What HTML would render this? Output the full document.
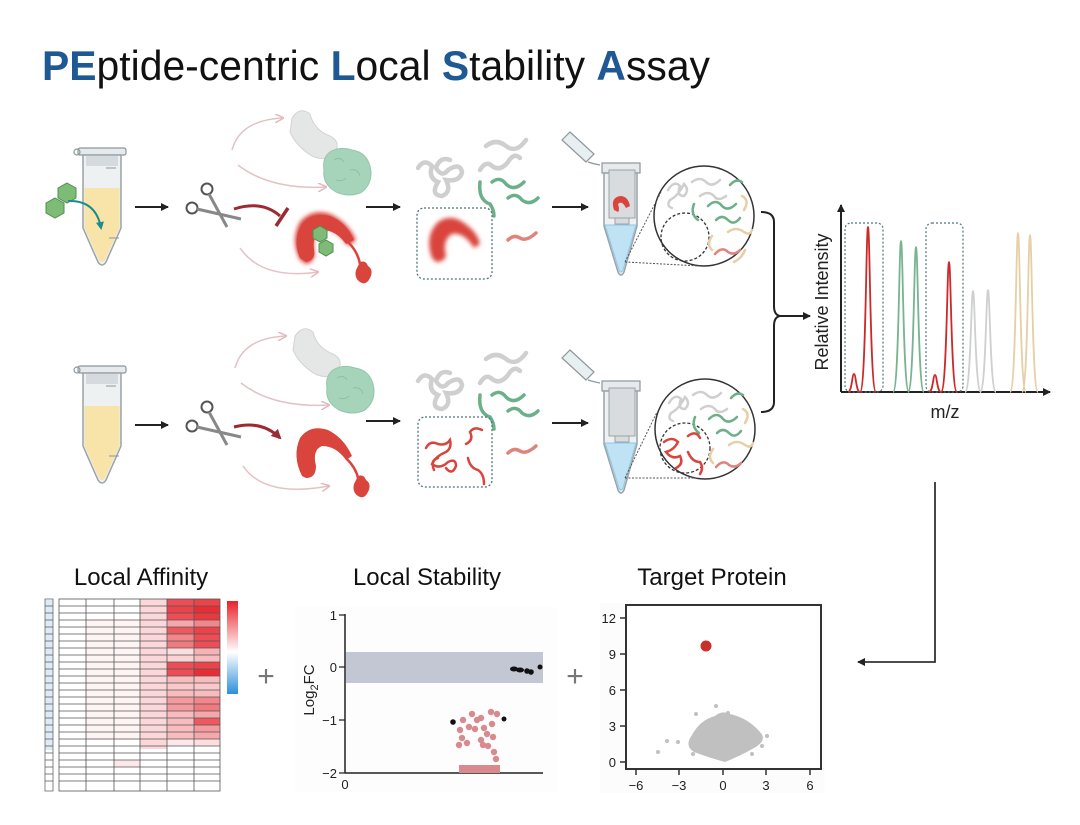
<!DOCTYPE html>
<html><head><meta charset="utf-8"><style>
html,body{margin:0;padding:0;background:#fff;}
svg{display:block;font-family:"Liberation Sans",sans-serif;}
</style></head><body>
<svg width="1080" height="825" viewBox="0 0 1080 825" xmlns="http://www.w3.org/2000/svg">
<defs>
<marker id="ah" markerWidth="8" markerHeight="8" refX="7" refY="4" orient="auto" markerUnits="userSpaceOnUse"><path d="M0,0 L8,4 L0,8 Z" fill="#222"/></marker>
<marker id="ahp" markerWidth="9" markerHeight="9" refX="8" refY="4.5" orient="auto" markerUnits="userSpaceOnUse"><path d="M0,0 L9,4.5 L0,9" fill="none" stroke="#e3b9bd" stroke-width="1.5"/></marker>
<marker id="ahd" markerWidth="10" markerHeight="10" refX="8" refY="5" orient="auto" markerUnits="userSpaceOnUse"><path d="M0,0 L10,5 L0,10 Z" fill="#9b2b33"/></marker>
<marker id="aht" markerWidth="8" markerHeight="8" refX="6" refY="4" orient="auto" markerUnits="userSpaceOnUse"><path d="M0,0 L8,4 L0,8 Z" fill="#1a8c8c"/></marker>
<filter id="blur" x="-20%" y="-20%" width="140%" height="140%"><feGaussianBlur stdDeviation="2.2"/></filter>
<g id="tube">
  <rect x="2" y="0" width="48" height="7" rx="2" fill="#e6eaec" stroke="#8d969b" stroke-width="1.2"/>
  <circle cx="1" cy="4" r="3" fill="none" stroke="#8d969b" stroke-width="1.2"/>
  <path d="M7,7 L45,7 L45,80 L30,114 Q26,120 22,114 L7,80 Z" fill="#edf1f2" stroke="#9aa3a8" stroke-width="1.5"/>
  <rect x="10" y="8" width="32" height="10" fill="#d4dadd"/>
  <path d="M8.5,40 L43.5,40 L43.5,80 L29,112 Q26,116 23,112 L8.5,80 Z" fill="#f8e3a8"/>
  <path d="M30,20 L40,20 M33,90 L43,90" stroke="#8d969b" stroke-width="1"/>
</g>
<g id="otube">
  <path d="M0,0 L8,-8 L32,14 L24,22 Z" transform="translate(12,20)" fill="#e7eff0" stroke="#8d969b" stroke-width="1.2"/>
  <path d="M38,42 Q44,44 50,45" fill="none" stroke="#8d969b" stroke-width="1.2"/>
  <rect x="52" y="43" width="38" height="10" fill="#e6eaec" stroke="#8d969b" stroke-width="1.2"/>
  <path d="M54,53 L87,53 L87,106 L74,152 Q71,158 68,152 L54,106 Z" fill="#edf1f2" stroke="#9aa3a8" stroke-width="1.5"/>
  <path d="M55,105 L86,105 L73,150 Q71,154 69,150 Z" fill="#bfe2f4" stroke="#8fc6e2" stroke-width="1"/>
  <rect x="59" y="50" width="26" height="48" fill="#d8dcde" stroke="#9aa3a8" stroke-width="1"/>
  <rect x="65" y="98" width="14" height="6" fill="#d8dcde" stroke="#9aa3a8" stroke-width="1"/>
</g>
<g id="scis" fill="none" stroke="#555" stroke-width="2">
  <circle cx="0" cy="0" r="5.5" fill="#fff"/>
  <circle cx="-15" cy="19" r="5.5" fill="#fff"/>
  <path d="M2,5 L20,38" stroke="#888" stroke-width="3"/>
  <path d="M-10,20 L34,30" stroke="#888" stroke-width="3"/>
</g>
<g id="blobs">
  <path d="M292,118 Q300,106 310,114 Q314,130 330,136 Q342,142 334,154 Q326,162 312,156 Q296,146 290,132 Z" fill="#e5e6e6" stroke="#d3d4d4" stroke-width="1"/>
  <path d="M330,152 Q340,146 352,150 Q366,152 370,166 Q374,182 362,192 Q350,198 336,192 Q322,184 324,170 Q322,158 330,152 Z" fill="#a6d4bb" stroke="#93c6ab" stroke-width="1"/>
  <path d="M334,160 q6,-4 10,2 M350,170 q8,-2 10,6 M336,180 q6,2 10,-2" stroke="#8cc0a4" fill="none"/>
</g>
<g id="gcoil" fill="none" stroke="#cfcfcf" stroke-width="4.5" stroke-linecap="round">
  <path d="M418,168 Q424,158 432,166 Q428,178 438,182 Q430,195 442,196 Q452,192 446,180 Q460,182 462,172 Q460,162 448,170 Q442,178 436,168 Q440,156 450,160"/>
  <path d="M480,170 Q486,160 492,166 Q500,172 508,162 Q514,152 520,158"/>
  <path d="M486,146 Q496,138 506,146 Q516,154 526,140"/>
</g>
<g id="gsq" fill="none" stroke="#6cb08a" stroke-width="3.5" stroke-linecap="round">
  <path d="M480,182 Q478,200 490,204 Q494,210 494,216"/>
  <path d="M492,182 Q500,176 506,184 Q514,192 524,182"/>
  <path d="M508,198 Q516,192 522,200 Q530,206 538,198"/>
</g>
</defs>

<!-- Title -->
<text x="42" y="80" font-size="42" textLength="668" lengthAdjust="spacingAndGlyphs" fill="#111"><tspan fill="#1f5994" font-weight="bold">PE</tspan>ptide-centric <tspan fill="#1f5994" font-weight="bold">L</tspan>ocal <tspan fill="#1f5994" font-weight="bold">S</tspan>tability <tspan fill="#1f5994" font-weight="bold">A</tspan>ssay</text>

<!-- TOP ROW -->
<use href="#tube" x="76" y="148"/>
<g fill="#7dbb77" stroke="#4f9150" stroke-width="1">
  <polygon points="55,198 64,203 64,213 55,218 46,213 46,203"/>
  <polygon points="67,183 76,188 76,198 67,203 58,198 58,188"/>
</g>
<path d="M68,201 Q96,200 101,228" fill="none" stroke="#1a8c8c" stroke-width="2" marker-end="url(#aht)"/>
<line x1="135" y1="207" x2="168" y2="207" stroke="#222" stroke-width="2" marker-end="url(#ah)"/>
<use href="#scis" x="207" y="189"/>
<path d="M232,150 Q240,120 283,118" fill="none" stroke="#e3c2c5" stroke-width="1.5" marker-end="url(#ahp)"/>
<path d="M238,165 Q270,190 326,187" fill="none" stroke="#e3c2c5" stroke-width="1.5" marker-end="url(#ahp)"/>
<path d="M240,248 Q262,280 318,272" fill="none" stroke="#e3c2c5" stroke-width="1.5" marker-end="url(#ahp)"/>
<path d="M234,209 Q262,200 280,216" fill="none" stroke="#9b2b33" stroke-width="3"/>
<line x1="288" y1="208" x2="276" y2="226" stroke="#9b2b33" stroke-width="3.5"/>
<use href="#blobs"/>
<g filter="url(#blur)"><path d="M300,260 Q290,240 300,222 Q312,208 330,214 Q348,222 356,240 L348,246 Q336,228 322,228 Q312,232 314,250 Q316,262 306,264 Z" fill="#d9453d"/></g>
<path d="M300,258 Q292,240 302,224 Q312,212 330,216 Q346,222 354,240 L346,244 Q336,230 322,230 Q312,234 314,250 Q316,260 306,262 Z" fill="#d9453d"/>
<path d="M348,242 Q358,252 360,264" stroke="#d9453d" stroke-width="2.5" fill="none"/>
<path d="M360,262 q6,-2 8,4 q6,4 2,12 q-4,8 -10,4 q-6,-4 -4,-12 Z" fill="#d9453d"/>
<g fill="#7dbb77" stroke="#4f9150" stroke-width="1">
  <polygon points="320,226 327,230 327,238 320,242 313,238 313,230"/>
  <polygon points="326,240 333,244 333,252 326,256 319,252 319,244"/>
</g>
<line x1="366" y1="207" x2="400" y2="207" stroke="#222" stroke-width="2" marker-end="url(#ah)"/>
<use href="#gcoil"/>
<use href="#gsq"/>
<path d="M508,240 Q514,234 520,238 Q526,242 536,233" fill="none" stroke="#e0837a" stroke-width="3.5" stroke-linecap="round"/>
<rect x="417" y="208" width="75" height="71" rx="7" fill="none" stroke="#4f7478" stroke-width="1.3" stroke-dasharray="2,2"/>
<g filter="url(#blur)"><path d="M432,258 Q424,236 438,222 Q452,212 468,226 Q478,234 480,244 L474,248 Q464,232 452,234 Q442,240 446,256 Q444,262 436,262 Z" fill="#d9453d"/></g>
<line x1="552" y1="207" x2="588" y2="207" stroke="#222" stroke-width="2" marker-end="url(#ah)"/>
<use href="#otube" x="550" y="120"/>
<path d="M614,210 Q610,198 620,196 Q628,196 630,206 L626,208 Q622,200 618,204 Q620,210 618,212 Z" fill="#d9453d"/>
<circle cx="704" cy="216" r="50" fill="#fff" stroke="#333" stroke-width="1.5"/>
<line x1="625" y1="262" x2="661" y2="192" stroke="#555" stroke-width="1" stroke-dasharray="2,1.5"/>
<line x1="625" y1="262" x2="700" y2="266" stroke="#555" stroke-width="1" stroke-dasharray="2,1.5"/>
<circle cx="685" cy="237" r="24" fill="none" stroke="#333" stroke-width="1.3" stroke-dasharray="3,2"/>
<g fill="none" stroke-width="2.5" stroke-linecap="round">
  <path d="M668,190 Q674,180 680,186 Q676,196 684,196 Q690,190 684,184 Q678,196 670,200 Q666,206 672,208" stroke="#cfcfcf"/>
  <path d="M692,182 Q700,176 706,182 Q712,188 720,180" stroke="#cfcfcf"/>
  <path d="M700,196 Q708,190 714,196 Q718,202 726,196" stroke="#cfcfcf"/>
  <path d="M694,204 Q690,214 698,220" stroke="#6cb08a"/>
  <path d="M708,206 Q716,198 722,206 Q728,212 736,204" stroke="#6cb08a"/>
  <path d="M716,220 Q722,214 728,220 Q734,226 740,218" stroke="#6cb08a"/>
  <path d="M730,185 Q736,178 742,182" stroke="#6cb08a"/>
  <path d="M742,196 Q750,200 744,210" stroke="#e6cfa6"/>
  <path d="M728,232 Q736,226 744,232 Q750,236 752,230" stroke="#e6cfa6"/>
  <path d="M712,236 Q706,244 712,250" stroke="#e6cfa6"/>
  <path d="M715,254 Q722,246 728,252 Q734,256 740,250" stroke="#e0837a"/>
  <path d="M734,262 Q742,258 745,250" stroke="#e6cfa6"/>
</g>

<!-- BOTTOM ROW -->
<use href="#tube" x="76" y="366"/>
<line x1="135" y1="425" x2="168" y2="425" stroke="#222" stroke-width="2" marker-end="url(#ah)"/>
<use href="#scis" x="207" y="407"/>
<g transform="translate(3,218)">
<path d="M232,150 Q240,120 283,118" fill="none" stroke="#e3c2c5" stroke-width="1.5" marker-end="url(#ahp)"/>
<path d="M238,165 Q270,190 326,187" fill="none" stroke="#e3c2c5" stroke-width="1.5" marker-end="url(#ahp)"/>
<path d="M240,248 Q262,280 326,268" fill="none" stroke="#e3c2c5" stroke-width="1.5" marker-end="url(#ahp)"/>
<use href="#blobs"/>
</g>
<path d="M234,427 Q262,420 280,438" fill="none" stroke="#9b2b33" stroke-width="3" marker-end="url(#ahd)"/>
<path d="M302,476 Q292,456 300,438 Q310,424 328,430 Q344,438 352,456 L346,460 Q336,446 322,446 Q312,450 316,466 Q316,478 306,478 Z" fill="#d9453d"/>
<path d="M346,458 Q356,468 358,478" stroke="#d9453d" stroke-width="2.5" fill="none"/>
<path d="M358,476 q6,-2 8,4 q6,4 2,12 q-4,8 -10,4 q-6,-4 -4,-12 Z" fill="#d9453d"/>
<line x1="366" y1="421" x2="400" y2="421" stroke="#222" stroke-width="2" marker-end="url(#ah)"/>
<g transform="translate(0,213)"><use href="#gcoil"/><use href="#gsq"/>
<path d="M508,240 Q514,234 520,238 Q526,242 536,233" fill="none" stroke="#e0837a" stroke-width="3.5" stroke-linecap="round"/></g>
<rect x="418" y="417" width="74" height="70" rx="7" fill="none" stroke="#4f7478" stroke-width="1.3" stroke-dasharray="2,2"/>
<g fill="none" stroke="#d9453d" stroke-width="2.5" stroke-linecap="round">
  <path d="M426,448 Q430,440 438,444 Q446,446 450,440 Q452,448 446,452 Q436,456 432,464 Q440,470 448,462 Q456,458 456,466 Q452,476 446,468"/>
  <path d="M434,470 Q430,460 438,458"/>
  <path d="M466,444 Q474,440 470,432 Q474,426 482,430"/>
  <path d="M468,458 Q470,468 478,470 Q484,474 484,484"/>
</g>
<line x1="552" y1="423" x2="588" y2="423" stroke="#222" stroke-width="2" marker-end="url(#ah)"/>
<use href="#otube" x="550" y="338"/>
<circle cx="705" cy="429" r="50" fill="#fff" stroke="#333" stroke-width="1.5"/>
<line x1="625" y1="478" x2="657" y2="412" stroke="#555" stroke-width="1" stroke-dasharray="2,1.5"/>
<line x1="625" y1="478" x2="697" y2="478" stroke="#555" stroke-width="1" stroke-dasharray="2,1.5"/>
<circle cx="685" cy="448" r="25" fill="none" stroke="#333" stroke-width="1.3" stroke-dasharray="3,2"/>
<g fill="none" stroke-width="2.5" stroke-linecap="round" transform="translate(1,213)">
  <path d="M668,190 Q674,180 680,186 Q676,196 684,196 Q690,190 684,184 Q678,196 670,200 Q666,206 672,208" stroke="#cfcfcf"/>
  <path d="M692,182 Q700,176 706,182 Q712,188 720,180" stroke="#cfcfcf"/>
  <path d="M700,196 Q708,190 714,196 Q718,202 726,196" stroke="#cfcfcf"/>
  <path d="M694,204 Q690,214 698,220" stroke="#6cb08a"/>
  <path d="M708,206 Q716,198 722,206 Q728,212 736,204" stroke="#6cb08a"/>
  <path d="M716,220 Q722,214 728,220 Q734,226 740,218" stroke="#6cb08a"/>
  <path d="M730,185 Q736,178 742,182" stroke="#6cb08a"/>
  <path d="M742,196 Q750,200 744,210" stroke="#e6cfa6"/>
  <path d="M728,232 Q736,226 744,232 Q750,236 752,230" stroke="#e6cfa6"/>
  <path d="M712,236 Q706,244 712,250" stroke="#e6cfa6"/>
  <path d="M715,254 Q722,246 728,252 Q734,256 740,250" stroke="#e0837a"/>
</g>
<g fill="none" stroke="#d9453d" stroke-width="2.5" stroke-linecap="round">
  <path d="M664,442 Q672,436 678,442 Q674,450 666,452 Q672,460 680,456 Q684,464 676,468"/>
  <path d="M688,436 Q696,430 700,438"/>
  <path d="M688,452 Q692,462 700,462 Q704,468 700,474"/>
</g>

<!-- Brace & arrow -->
<path d="M761,212 Q774,212 774,222 L774,306 Q774,315 780,316 Q774,317 774,326 L774,402 Q774,412 761,412" fill="none" stroke="#222" stroke-width="2"/>
<line x1="780" y1="316" x2="810" y2="316" stroke="#222" stroke-width="2" marker-end="url(#ah)"/>

<!-- Spectrum -->
<line x1="841" y1="392" x2="841" y2="205" stroke="#222" stroke-width="2" marker-end="url(#ah)"/>
<line x1="841" y1="392" x2="1050" y2="392" stroke="#222" stroke-width="2" marker-end="url(#ah)"/>
<text transform="translate(828,302) rotate(-90)" font-size="18" text-anchor="middle" fill="#222">Relative Intensity</text>
<text x="945" y="418" font-size="18" text-anchor="middle" fill="#222">m/z</text>
<rect x="845" y="223" width="38" height="169" rx="6" fill="none" stroke="#4f7478" stroke-width="1.2" stroke-dasharray="2,2"/>
<rect x="926" y="223" width="37" height="169" rx="6" fill="none" stroke="#4f7478" stroke-width="1.2" stroke-dasharray="2,2"/>
<g fill="none" stroke-width="1.8">
  <path d="M848,392 C852,392 852,374 854,374 C856,374 856,392 860,392" stroke="#cc2a2a"/>
  <path d="M860,392 C866,392 866,227 868,227 C870,227 870,392 876,392" stroke="#cc2a2a"/>
  <path d="M893,392 C899,392 899,241 901,241 C903,241 903,392 909,392" stroke="#78b48f"/>
  <path d="M908,392 C914,392 914,247 916,247 C918,247 918,392 924,392" stroke="#78b48f"/>
  <path d="M929,392 C933,392 933,375 935,375 C937,375 937,392 941,392" stroke="#cc2a2a"/>
  <path d="M941,392 C947,392 947,262 949,262 C951,262 951,392 957,392" stroke="#cc2a2a"/>
  <path d="M965,392 C971,392 971,291 973,291 C975,291 975,392 981,392" stroke="#cfcfcf"/>
  <path d="M980,392 C986,392 986,290 988,290 C990,290 990,392 996,392" stroke="#cfcfcf"/>
  <path d="M1010,392 C1016,392 1016,233 1018,233 C1020,233 1020,392 1026,392" stroke="#e6cfa6"/>
  <path d="M1022,392 C1028,392 1028,235 1030,235 C1032,235 1032,392 1038,392" stroke="#e6cfa6"/>
</g>

<!-- Connector -->
<path d="M935,482 L935,662 L858,662" fill="none" stroke="#333" stroke-width="1.8" marker-end="url(#ah)"/>

<!-- Titles bottom -->
<text x="141" y="585" font-size="24" text-anchor="middle" fill="#111">Local Affinity</text>
<text x="427" y="585" font-size="24" text-anchor="middle" fill="#111">Local Stability</text>
<text x="712" y="585" font-size="24" text-anchor="middle" fill="#111">Target Protein</text>
<text x="266" y="686" font-size="30" text-anchor="middle" fill="#777">+</text>
<text x="575" y="686" font-size="30" text-anchor="middle" fill="#777">+</text>

<!-- Heatmap -->
<rect x="45" y="599" width="8" height="192" fill="#fff" stroke="#666" stroke-width="0.8"/>
<rect x="45.5" y="600" width="7" height="150" fill="#deebf6"/>
<rect x="59" y="599" width="161" height="192" fill="#fff"/>
<g fill="#e8222a">
<rect x="140" y="599" width="27" height="150" fill-opacity="0.18"/>
<rect x="167" y="599" width="27" height="7" fill-opacity="0.8"/><rect x="194" y="599" width="26" height="7" fill-opacity="0.85"/>
<rect x="167" y="606" width="27" height="7" fill-opacity="0.85"/><rect x="194" y="606" width="26" height="7" fill-opacity="0.95"/>
<rect x="167" y="613" width="27" height="7" fill-opacity="0.8"/><rect x="194" y="613" width="26" height="7" fill-opacity="0.9"/>
<rect x="167" y="620" width="27" height="7" fill-opacity="0.4"/><rect x="194" y="620" width="26" height="7" fill-opacity="0.55"/>
<rect x="167" y="627" width="27" height="7" fill-opacity="0.75"/><rect x="194" y="627" width="26" height="7" fill-opacity="0.85"/>
<rect x="167" y="634" width="27" height="7" fill-opacity="0.55"/><rect x="194" y="634" width="26" height="7" fill-opacity="0.8"/>
<rect x="167" y="641" width="27" height="7" fill-opacity="0.6"/><rect x="194" y="641" width="26" height="7" fill-opacity="0.8"/>
<rect x="167" y="648" width="27" height="7" fill-opacity="0.15"/><rect x="194" y="648" width="26" height="7" fill-opacity="0.35"/>
<rect x="167" y="655" width="27" height="7" fill-opacity="0.2"/><rect x="194" y="655" width="26" height="7" fill-opacity="0.3"/>
<rect x="167" y="662" width="27" height="7" fill-opacity="0.8"/><rect x="194" y="662" width="26" height="7" fill-opacity="0.85"/>
<rect x="167" y="669" width="27" height="7" fill-opacity="0.8"/><rect x="194" y="669" width="26" height="7" fill-opacity="0.95"/>
<rect x="167" y="676" width="27" height="7" fill-opacity="0.3"/><rect x="194" y="676" width="26" height="7" fill-opacity="0.3"/>
<rect x="167" y="683" width="27" height="7" fill-opacity="0.25"/><rect x="194" y="683" width="26" height="7" fill-opacity="0.25"/>
<rect x="167" y="690" width="27" height="7" fill-opacity="0.3"/><rect x="194" y="690" width="26" height="7" fill-opacity="0.3"/>
<rect x="167" y="697" width="27" height="7" fill-opacity="0.45"/><rect x="194" y="697" width="26" height="7" fill-opacity="0.55"/>
<rect x="167" y="704" width="27" height="7" fill-opacity="0.45"/><rect x="194" y="704" width="26" height="7" fill-opacity="0.6"/>
<rect x="167" y="711" width="27" height="7" fill-opacity="0.3"/><rect x="194" y="711" width="26" height="7" fill-opacity="0.4"/>
<rect x="167" y="718" width="27" height="7" fill-opacity="0.3"/><rect x="194" y="718" width="26" height="7" fill-opacity="0.75"/>
<rect x="167" y="725" width="27" height="7" fill-opacity="0.3"/><rect x="194" y="725" width="26" height="7" fill-opacity="0.45"/>
<rect x="167" y="732" width="27" height="7" fill-opacity="0.3"/><rect x="194" y="732" width="26" height="7" fill-opacity="0.4"/>
<rect x="167" y="739" width="27" height="7" fill-opacity="0.1"/><rect x="194" y="739" width="26" height="7" fill-opacity="0.15"/>
<rect x="86" y="620" width="54" height="120" fill-opacity="0.05"/>
<rect x="114" y="760" width="26" height="7" fill-opacity="0.1"/>
</g>
<g stroke="#555" stroke-width="0.8" fill="none">
<rect x="59" y="599" width="161" height="192"/>
<path d="M86,599V791M114,599V791M140,599V791M167,599V791M194,599V791"/>
<path d="M45,606H53M59,606H220M45,613H53M59,613H220M45,620H53M59,620H220M45,627H53M59,627H220M45,634H53M59,634H220M45,641H53M59,641H220M45,648H53M59,648H220M45,655H53M59,655H220M45,662H53M59,662H220M45,669H53M59,669H220M45,676H53M59,676H220M45,683H53M59,683H220M45,690H53M59,690H220M45,697H53M59,697H220M45,704H53M59,704H220M45,711H53M59,711H220M45,718H53M59,718H220M45,725H53M59,725H220M45,732H53M59,732H220M45,739H53M59,739H220M45,746H53M59,746H220M45,753H53M59,753H220M45,760H53M59,760H220M45,767H53M59,767H220M45,774H53M59,774H220M45,781H53M59,781H220"/>
</g>
<linearGradient id="cb" x1="0" y1="0" x2="0" y2="1"><stop offset="0" stop-color="#e8222a"/><stop offset="0.55" stop-color="#fff"/><stop offset="1" stop-color="#2d8fdc"/></linearGradient>
<rect x="227" y="601" width="11" height="93" fill="url(#cb)"/>

<!-- Stability plot -->
<rect x="295" y="607" width="262" height="185" fill="#fdfdfd"/>
<rect x="346" y="652" width="197" height="31" fill="#c3c6d3"/>
<line x1="345" y1="614" x2="345" y2="773" stroke="#222" stroke-width="1.5"/>
<line x1="345" y1="773" x2="543" y2="773" stroke="#222" stroke-width="1.5"/>
<path d="M339,615H345M339,667H345M339,720H345M339,773H345" stroke="#222" stroke-width="1.2"/>
<g font-size="13" text-anchor="end" fill="#222"><text x="337" y="620">1</text><text x="337" y="672">0</text><text x="337" y="725">−1</text><text x="337" y="778">−2</text></g>
<text x="345" y="789" font-size="13" text-anchor="middle" fill="#222">0</text>
<text transform="translate(314,690) rotate(-90)" font-size="15" text-anchor="middle" fill="#222">Log<tspan font-size="11" dy="4">2</tspan><tspan dy="-4">FC</tspan></text>
<g fill="#111"><ellipse cx="514" cy="669" rx="4" ry="2.5"/><ellipse cx="520" cy="670" rx="4" ry="2.5"/><circle cx="527" cy="671" r="2.8"/><circle cx="531" cy="672" r="2.8"/><circle cx="540" cy="667" r="2.5"/><circle cx="453" cy="722" r="2.8"/><circle cx="504" cy="719" r="2.5"/></g>
<g fill="#d98a8e"><circle cx="463" cy="720" r="3.2"/><circle cx="472" cy="714" r="3.2"/><circle cx="481" cy="718" r="3.2"/><circle cx="491" cy="712" r="3.2"/><circle cx="497" cy="714" r="3.2"/><circle cx="460" cy="730" r="3.2"/><circle cx="469" cy="727" r="3.2"/><circle cx="475" cy="729" r="3.2"/><circle cx="484" cy="728" r="3.2"/><circle cx="492" cy="724" r="3.2"/><circle cx="462" cy="738" r="3.2"/><circle cx="487" cy="734" r="3.2"/><circle cx="481" cy="740" r="3.2"/><circle cx="493" cy="737" r="3.2"/><circle cx="459" cy="745" r="3.2"/><circle cx="467" cy="743" r="3.2"/><circle cx="483" cy="745" r="3.2"/><circle cx="488" cy="746" r="3.2"/><circle cx="494" cy="752" r="3.2"/><circle cx="496" cy="759" r="3.2"/><circle cx="477" cy="720" r="3.2"/></g>
<rect x="459" y="765" width="41" height="8" fill="#d98a8e"/>

<!-- Target protein -->
<rect x="600" y="603" width="225" height="190" fill="#fcfcfc"/>
<rect x="626" y="605" width="195" height="164" fill="#fff" stroke="#333" stroke-width="2"/>
<path d="M620,618H626M620,654H626M620,690H626M620,726H626M620,762H626M636,769V775M679,769V775M723,769V775M766,769V775M810,769V775" stroke="#333" stroke-width="1.5"/>
<g font-size="13" fill="#222" text-anchor="end"><text x="616" y="623">12</text><text x="616" y="659">9</text><text x="616" y="695">6</text><text x="616" y="731">3</text><text x="616" y="767">0</text></g>
<g font-size="13" fill="#222" text-anchor="middle"><text x="636" y="790">−6</text><text x="679" y="790">−3</text><text x="723" y="790">0</text><text x="766" y="790">3</text><text x="810" y="790">6</text></g>
<path d="M692,735 Q700,720 715,716 Q722,710 730,714 Q748,718 760,732 Q768,740 754,748 Q740,756 725,762 Q710,758 694,752 Q684,746 692,735 Z" fill="#c0c0c0"/>
<g fill="#c0c0c0"><circle cx="658" cy="752" r="2"/><circle cx="667" cy="741" r="2"/><circle cx="678" cy="742" r="2"/><circle cx="696" cy="714" r="2"/><circle cx="716" cy="706" r="2"/><circle cx="728" cy="713" r="2"/><circle cx="767" cy="736" r="2"/><circle cx="762" cy="746" r="2"/><circle cx="693" cy="754" r="2"/><circle cx="752" cy="754" r="2"/></g>
<circle cx="706" cy="646" r="5.5" fill="#c8302a"/>
</svg>
</body></html>
